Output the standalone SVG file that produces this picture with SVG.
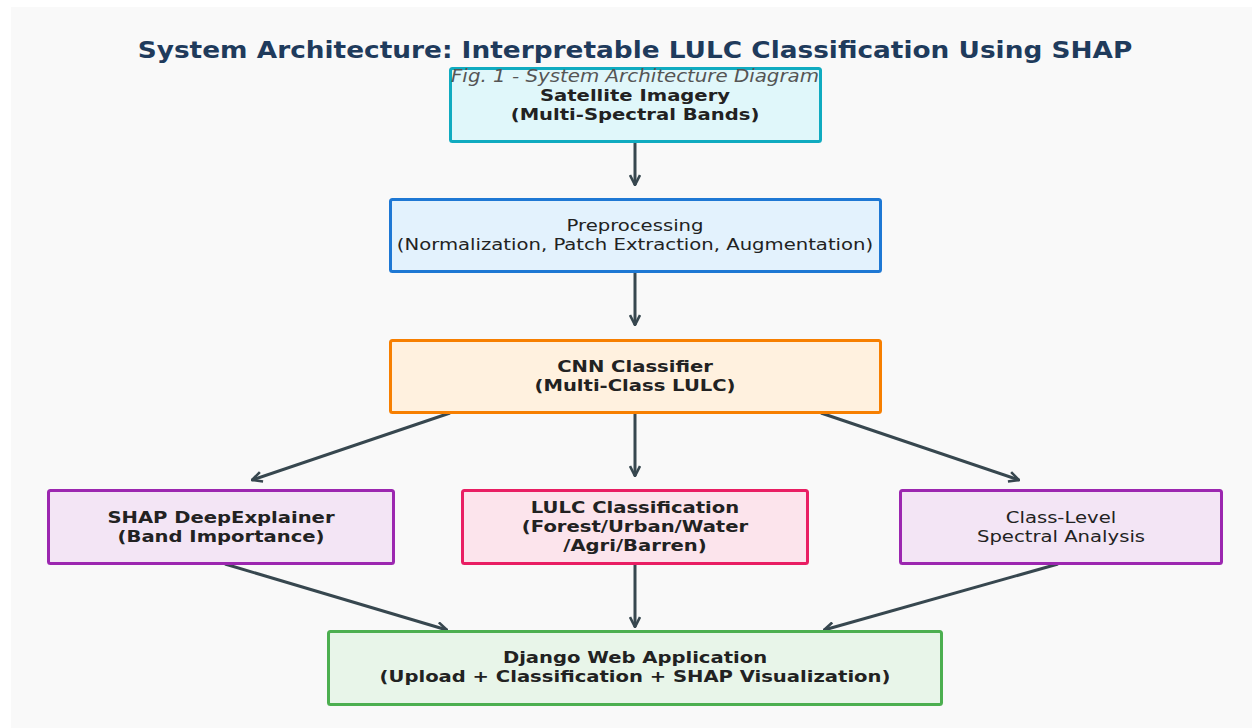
<svg xmlns="http://www.w3.org/2000/svg" width="1252" height="728" viewBox="0 0 1252 728">
<defs>
<style>
.t{font-family:"DejaVu Sans","Liberation Sans",sans-serif;text-anchor:middle;fill:#222}
.b{font-weight:bold;font-size:16.4px}
.n{font-size:16.4px}
.box{stroke-width:3}
.c{stroke:#37474f;stroke-width:3;fill:none}
</style>
<marker id="ah" viewBox="0 0 12 12" refX="11" refY="6" markerWidth="12" markerHeight="12" markerUnits="userSpaceOnUse" orient="auto">
<path d="M1,1 L11,6 L1,11" fill="none" stroke="#37474f" stroke-width="2.6" stroke-linejoin="miter"/>
</marker>
</defs>
<rect x="0" y="0" width="1252" height="728" fill="#ffffff"/>
<rect x="11" y="7" width="1241" height="721" fill="#f9f9f9"/>
<text class="t" transform="translate(635,58) scale(1.172,1)" x="0" y="0" font-size="22.5" font-weight="bold" style="fill:#1f3b5c">System Architecture: Interpretable LULC Classification Using SHAP</text>
<g id="connectors">
<line class="c" x1="635" y1="143" x2="635" y2="185" marker-end="url(#ah)"/>
<line class="c" x1="635" y1="273" x2="635" y2="325" marker-end="url(#ah)"/>
<line class="c" x1="635" y1="414" x2="635" y2="476" marker-end="url(#ah)"/>
<line class="c" x1="450" y1="413" x2="252" y2="480" marker-end="url(#ah)"/>
<line class="c" x1="821" y1="413" x2="1019" y2="480" marker-end="url(#ah)"/>
<line class="c" x1="225" y1="564" x2="447" y2="630" marker-end="url(#ah)"/>
<line class="c" x1="635" y1="565" x2="635" y2="627" marker-end="url(#ah)"/>
<line class="c" x1="1058" y1="564" x2="824" y2="630" marker-end="url(#ah)"/>
</g>
<g id="satellite">
<rect class="box" x="450.5" y="68.5" width="370" height="73" rx="2" fill="#e0f7fa" stroke="#10abc0"/>
<text class="t b" transform="translate(635,101) scale(1.195,1)">Satellite Imagery</text>
<text class="t b" transform="translate(635,120) scale(1.195,1)">(Multi-Spectral Bands)</text>
</g>
<text class="t" transform="translate(635,82) scale(1.18,1)" font-size="16.8" font-style="italic" style="fill:#555">Fig. 1 - System Architecture Diagram</text>
<g id="preprocessing">
<rect class="box" x="390.5" y="199.5" width="490" height="72" rx="2" fill="#e3f2fd" stroke="#1e78d4"/>
<text class="t n" transform="translate(635,231) scale(1.198,1)">Preprocessing</text>
<text class="t n" transform="translate(635,250) scale(1.198,1)">(Normalization, Patch Extraction, Augmentation)</text>
</g>
<g id="cnn">
<rect class="box" x="390.5" y="340.5" width="490" height="72" rx="2" fill="#fff1df" stroke="#f77f00"/>
<text class="t b" transform="translate(635,372) scale(1.195,1)">CNN Classifier</text>
<text class="t b" transform="translate(635,391) scale(1.195,1)">(Multi-Class LULC)</text>
</g>
<g id="shap">
<rect class="box" x="48.5" y="490.5" width="345" height="73" rx="2" fill="#f3e5f5" stroke="#9c27b0"/>
<text class="t b" transform="translate(221,523) scale(1.195,1)">SHAP DeepExplainer</text>
<text class="t b" transform="translate(221,542) scale(1.195,1)">(Band Importance)</text>
</g>
<g id="lulc">
<rect class="box" x="462.5" y="490.5" width="345" height="73" rx="2" fill="#fce4ec" stroke="#e91e63"/>
<text class="t b" transform="translate(635,513) scale(1.195,1)">LULC Classification</text>
<text class="t b" transform="translate(635,532) scale(1.195,1)">(Forest/Urban/Water</text>
<text class="t b" transform="translate(635,551) scale(1.195,1)">/Agri/Barren)</text>
</g>
<g id="classlevel">
<rect class="box" x="900.5" y="490.5" width="321" height="73" rx="2" fill="#f3e5f5" stroke="#9c27b0"/>
<text class="t n" transform="translate(1061,523) scale(1.198,1)">Class-Level</text>
<text class="t n" transform="translate(1061,542) scale(1.198,1)">Spectral Analysis</text>
</g>
<g id="django">
<rect class="box" x="328.5" y="631.5" width="613" height="73" rx="2" fill="#e8f5e9" stroke="#4caf50"/>
<text class="t b" transform="translate(635,663) scale(1.195,1)">Django Web Application</text>
<text class="t b" transform="translate(635,682) scale(1.195,1)">(Upload + Classification + SHAP Visualization)</text>
</g>
</svg>
